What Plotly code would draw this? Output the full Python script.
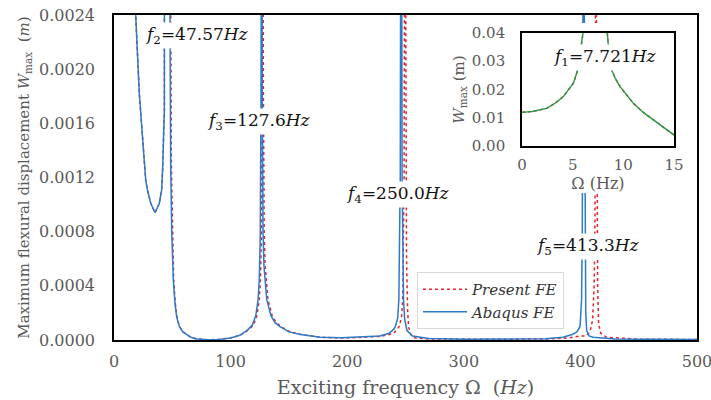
import plotly.graph_objects as go

# ---------------- data ----------------
# Present FE (red dotted)
freq_present = [0, 1.0, 2.44, 3.3, 4.08, 5.07, 5.5, 5.9, 6.02, 6.6, 7.2, 7.8, 8.36, 8.5, 8.86, 9.2, 9.68,
                10.99, 12.0, 12.96, 14.0, 15.0, 16.8, 18.6, 21.7, 24.6, 26.0, 27.2, 28.6, 31.5, 35.2,
                38.9, 40.9, 41.7, 43.2,
                44.6, 45.6, 46.6, 47.2, 47.57, 47.95, 48.3, 48.7, 49.2, 50.0, 51.2, 52.6, 54.0, 56.2,
                59.2, 62.5, 66.0, 71.0, 80.0, 90.0, 100.0, 108.0,
                115.6, 119.6, 122.6, 124.6, 125.6, 126.4, 126.8, 127.1, 127.3, 127.6, 127.9, 128.1,
                128.4, 128.8, 129.6, 130.6, 132.0, 135.6, 139.0, 143.0, 151.0, 161.0, 177.0, 195.0,
                210.0, 228.0, 236.0, 240.0,
                244.6, 246.6, 247.6, 248.4, 248.8, 249.2, 249.6, 250.0, 250.4, 250.9, 251.8, 252.6,
                254.5, 258.0, 270.0, 300.0, 340.0, 370.0, 390.0, 400.0,
                405.0, 408.2, 410.5, 411.8, 412.5, 412.9, 413.3, 413.7, 414.1, 414.8, 415.6, 417.5,
                422.5, 450.0, 500.0]
w_present = [0.0119, 0.0122, 0.0133, 0.0152, 0.0175, 0.0222, 0.0269, 0.0363, 0.0400, 0.0700, 0.5000,
             0.0700, 0.0400, 0.0363, 0.0269, 0.0240, 0.0210,
             0.0151, 0.0118, 0.0092, 0.0063, 0.0039, 0.0030, 0.0024, 0.00182, 0.00145, 0.00126,
             0.00118, 0.00111, 0.00101, 0.00094,
             0.00101, 0.00111, 0.00126, 0.0017,
             0.0026, 0.0042, 0.009, 0.025, 0.08, 0.012, 0.0045, 0.0024, 0.0013, 0.0008, 0.00044,
             0.00027, 0.00017, 0.0001,
             0.00006, 0.00004, 0.00002, 0.000008, 0.000002, 0.000004, 0.000015, 0.000035,
             0.000075, 0.00011, 0.00018, 0.0003, 0.00045, 0.00075, 0.0011, 0.0018, 0.003, 0.05,
             0.003, 0.0019,
             0.0012, 0.0008, 0.00055, 0.00042, 0.0003, 0.00018, 0.00013, 0.0001, 0.00006, 0.00004,
             0.00002, 0.000014,
             0.000018, 0.000026, 0.00004, 0.00005,
             0.0001, 0.00017, 0.0003, 0.0007, 0.0012, 0.003, 0.05, 0.003, 0.0012, 0.0006, 0.00022,
             0.0001,
             0.00004, 0.000015, 0.000008, 0.000005, 0.000005, 0.000008, 0.000015, 0.00003,
             0.00003, 0.00006, 0.00015, 0.0004, 0.0009, 0.0025, 0.05, 0.0025, 0.0009, 0.0004,
             0.00012, 0.00005,
             0.00002, 0.000006, 0.000004]

# Abaqus FE (blue solid)
freq_abaqus = [0, 1.0, 2.44, 3.3, 4.08, 5.07, 5.5, 5.9, 6.02, 6.6, 7.2, 7.8, 8.36, 8.5, 8.86, 9.2, 9.68,
               10.99, 12.0, 12.96, 14.0, 15.0, 16.8, 18.6, 21.7, 24.6, 26.0, 27.2, 28.6, 31.5, 35.2,
               38.9, 40.9, 41.7, 43.2,
               43.9, 44.8, 45.5, 46.0, 46.3, 46.7, 47.3, 48.0, 48.6, 49.5, 50.9, 52.3, 53.8, 56.0,
               59.0, 62.3, 66.0, 71.0, 80.0, 90.0, 100.0, 108.0,
               114.6, 118.6, 121.6, 123.6, 124.6, 125.4, 125.8, 126.1, 126.3, 126.6, 126.9, 127.1,
               127.4, 127.8, 128.6, 129.6, 131.0, 134.6, 138.0, 142.0, 150.0, 160.0, 177.0, 195.0,
               210.0, 228.0, 236.0, 240.0,
               241.3, 243.3, 244.3, 245.1, 245.5, 245.9, 246.3, 246.7, 247.1, 247.5, 248.3, 249.3,
               251.3, 256.0, 270.0, 300.0, 340.0, 370.0, 385.0, 393.0,
               397.0, 399.7, 401.0, 401.6, 402.2, 402.75, 403.3, 403.9, 404.6, 405.4, 407.5, 410.8,
               430.0, 460.0, 500.0]
w_abaqus = [0.0119, 0.0122, 0.0133, 0.0152, 0.0175, 0.0222, 0.0269, 0.0363, 0.0400, 0.0700, 0.5000,
            0.0700, 0.0400, 0.0363, 0.0269, 0.0240, 0.0210,
            0.0151, 0.0118, 0.0092, 0.0063, 0.0039, 0.0030, 0.0024, 0.00182, 0.00145, 0.00126,
            0.00118, 0.00111, 0.00101, 0.00094,
            0.00101, 0.00111, 0.00126, 0.0017,
            0.0026, 0.0045, 0.009, 0.03, 0.08, 0.012, 0.0045, 0.0024, 0.0013, 0.0008, 0.00044,
            0.00027, 0.00017, 0.0001,
            0.00006, 0.00004, 0.00002, 0.000008, 0.000002, 0.000004, 0.000015, 0.000035,
            0.000075, 0.00011, 0.00018, 0.0003, 0.00045, 0.00075, 0.0011, 0.0018, 0.003, 0.05,
            0.003, 0.0019,
            0.0012, 0.0008, 0.00055, 0.00042, 0.0003, 0.00018, 0.00013, 0.0001, 0.00006, 0.00004,
            0.00002, 0.000016,
            0.00002, 0.00003, 0.00005, 0.00008,
            0.0001, 0.00016, 0.0003, 0.0007, 0.0012, 0.003, 0.05, 0.003, 0.0012, 0.0007, 0.0003,
            0.00015,
            0.00007, 0.00003, 0.000012, 0.000006, 0.000006, 0.00001, 0.00002, 0.00004,
            0.00006, 0.0001, 0.0003, 0.0008, 0.0025, 0.05, 0.0025, 0.0008, 0.0002, 0.00007,
            0.00003, 0.00002,
            0.000008, 0.000005, 0.000004]

x_ticks = [0, 100, 200, 300, 400, 500]
y_ticks = [0.0, 0.0004, 0.0008, 0.0012, 0.0016, 0.0020, 0.0024]
inset_x_ticks = [0, 5, 10, 15]
inset_y_ticks = [0.0, 0.01, 0.02, 0.03, 0.04]

# natural frequency labels
peak_texts = ["<i>f</i><sub>2</sub>=47.57<i>Hz</i>",
              "<i>f</i><sub>3</sub>=127.6<i>Hz</i>",
              "<i>f</i><sub>4</sub>=250.0<i>Hz</i>",
              "<i>f</i><sub>5</sub>=413.3<i>Hz</i>"]
peak_label_x = [71.0, 124.4, 243.5, 406.5]
peak_label_y = [0.002245, 0.00161, 0.001078, 0.000689]
inset_text = "<i>f</i><sub>1</sub>=7.721<i>Hz</i>"
inset_label_x = 8.19
inset_label_y = 0.0315

# ---------------- figure ----------------
FONT = "DejaVu Serif"
GRAY = "#595959"
RED = "#e3242b"
BLUE = "#2b7bcb"
GREEN = "#2a9a48"

fig = go.Figure()

fig.add_trace(go.Scatter(x=freq_present, y=w_present, mode="lines", name="<i>Present FE</i>",
                         line=dict(color=RED, width=1.5, dash="dot"), xaxis="x", yaxis="y"))
fig.add_trace(go.Scatter(x=freq_abaqus, y=w_abaqus, mode="lines", name="<i>Abaqus FE</i>",
                         line=dict(color=BLUE, width=1.5), xaxis="x", yaxis="y"))

# white cover behind the inset
fig.add_trace(go.Scatter(x=[0], y=[0], mode="lines", showlegend=False, hoverinfo="skip",
                         line=dict(color="rgba(0,0,0,0)"), xaxis="x2", yaxis="y2"))

# inset
fig.add_trace(go.Scatter(x=freq_present, y=w_present, mode="lines", showlegend=False,
                         line=dict(color=RED, width=1.5, dash="dot"), xaxis="x3", yaxis="y3"))
fig.add_trace(go.Scatter(x=freq_abaqus, y=w_abaqus, mode="lines", showlegend=False,
                         line=dict(color=GREEN, width=1.4), xaxis="x3", yaxis="y3"))

annotations = []
for t, ax_, ay_ in zip(peak_texts, peak_label_x, peak_label_y):
    annotations.append(dict(text=t, x=ax_, y=ay_, xref="x", yref="y", showarrow=False,
                            xanchor="center", yanchor="middle", bgcolor="white", borderpad=1,
                            font=dict(family=FONT, size=17, color="#111111")))
annotations.append(dict(text=inset_text, x=inset_label_x, y=inset_label_y, xref="x3", yref="y3",
                        showarrow=False, xanchor="center", yanchor="middle", bgcolor="white",
                        borderpad=1, font=dict(family=FONT, size=17, color="#111111")))

fig.update_layout(
    width=711, height=400,
    margin=dict(l=114, r=14, t=15, b=60, autoexpand=False),
    paper_bgcolor="white", plot_bgcolor="white",
    font=dict(family=FONT, color=GRAY),
    showlegend=True,
    legend=dict(x=0.5197, y=0.209, xanchor="left", yanchor="top", itemwidth=44,
                bgcolor="white", bordercolor="#d9d9d9", borderwidth=1,
                font=dict(family=FONT, size=15, color="#333333"), tracegroupgap=0),
    annotations=annotations,
    xaxis=dict(domain=[0, 1], range=[0, 500], tickvals=x_ticks, showgrid=False, zeroline=False,
               showline=True, mirror=True, linecolor="black", linewidth=1.5, ticks="",
               automargin=False, ticklabeloverflow="allow",
               tickfont=dict(family=FONT, size=16, color=GRAY), ticklabelstandoff=6,
               title=dict(text="Exciting frequency Ω  (<i>Hz</i>)", standoff=11,
                          font=dict(family=FONT, size=19, color=GRAY))),
    yaxis=dict(domain=[0, 1], range=[0, 0.0024], tickvals=y_ticks, tickformat=".4f", showgrid=False,
               zeroline=False, showline=True, mirror=True, linecolor="black", linewidth=1.5,
               ticks="", automargin=False,
               tickfont=dict(family=FONT, size=16, color=GRAY), ticklabelstandoff=14,
               title=dict(text="Maximum flexural displacement <i>W</i><sub>max</sub>  (<i>m</i>)",
                          standoff=6, font=dict(family=FONT, size=15, color=GRAY))),
    xaxis2=dict(domain=[0.5678, 0.988], range=[0, 1], visible=False, anchor="y2"),
    yaxis2=dict(domain=[0.4523, 0.9754], range=[0, 1], visible=False, anchor="x2"),
    xaxis3=dict(domain=[0.6998, 0.9605], range=[0, 15], tickvals=inset_x_ticks, anchor="y3",
                showgrid=False, zeroline=False, showline=True, mirror=True, linecolor="black",
                linewidth=1.5, ticks="", automargin=False,
                tickfont=dict(family=FONT, size=15, color=GRAY), ticklabelstandoff=4,
                title=dict(text="Ω (Hz)", standoff=0, font=dict(family=FONT, size=16, color=GRAY))),
    yaxis3=dict(domain=[0.597, 0.9446], range=[0, 0.04], tickvals=inset_y_ticks, tickformat=".2f",
                anchor="x3", showgrid=False, zeroline=False, showline=True, mirror=True,
                linecolor="black", linewidth=1.5, ticks="", automargin=False,
                tickfont=dict(family=FONT, size=15, color=GRAY), ticklabelstandoff=12,
                title=dict(text="<i>W</i><sub>max</sub> (m)", standoff=4,
                           font=dict(family=FONT, size=15, color=GRAY))),
)

fig.write_html("out.html", config={"displayModeBar": False},
               post_script="document.body.style.margin='0px';")
